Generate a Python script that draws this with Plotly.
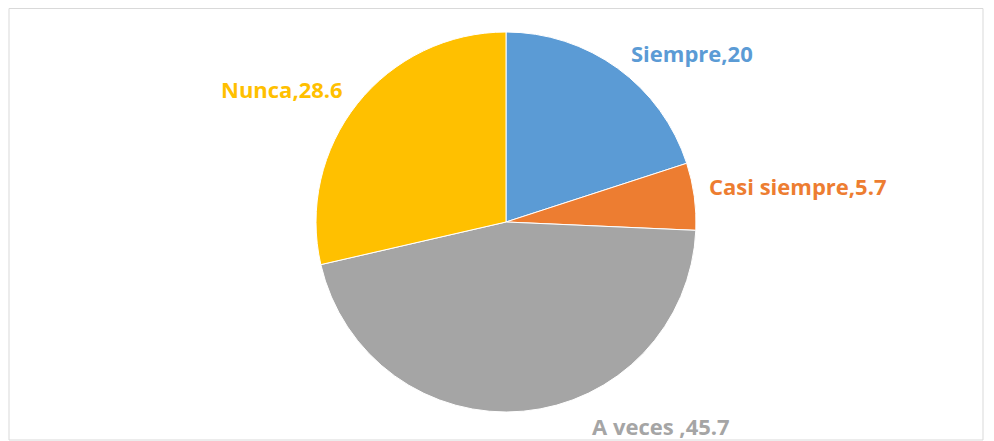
import plotly.graph_objects as go

labels = ["Siempre", "Casi siempre", "A veces ", "Nunca"]
values = [20, 5.7, 45.7, 28.6]
colors = ["#5B9BD5", "#ED7D31", "#A5A5A5", "#FFC000"]

W, H = 994, 441
OFF = 8  # page body margin shifts the figure by this many pixels


def px_x(x):
    return (x - OFF) / W


def px_y(y):
    return 1 - (y - OFF) / H


fig = go.Figure()
fig.add_trace(go.Pie(
    labels=labels,
    values=values,
    sort=False,
    direction="clockwise",
    rotation=0,
    marker=dict(colors=colors, line=dict(color="white", width=1)),
    textinfo="none",
    hoverinfo="label+value",
    showlegend=False,
    domain=dict(x=[px_x(316), px_x(696)], y=[px_y(413), px_y(31)]),
))

# label positions in screen pixels (center x, center y)
label_pos = [(692, 53), (798, 186), (661, 426), (282, 89)]
for lab, val, col, (px, py) in zip(labels, values, colors, label_pos):
    fig.add_annotation(
        x=px_x(px), y=px_y(py), xref="paper", yref="paper",
        text=f"<b>{lab},{val:g}</b>", showarrow=False,
        xanchor="center", yanchor="middle",
        font=dict(family="Open Sans, Liberation Sans, sans-serif", size=22, color=col),
    )

# chart area border
fig.add_shape(type="rect", xref="paper", yref="paper",
              x0=px_x(9), x1=px_x(983), y0=px_y(440), y1=1 - 0.5 / H,
              line=dict(color="#D9D9D9", width=1))

fig.update_layout(
    width=W, height=H,
    margin=dict(l=0, r=0, t=0, b=0),
    paper_bgcolor="white",
    plot_bgcolor="white",
)

fig.write_html("out.html")
